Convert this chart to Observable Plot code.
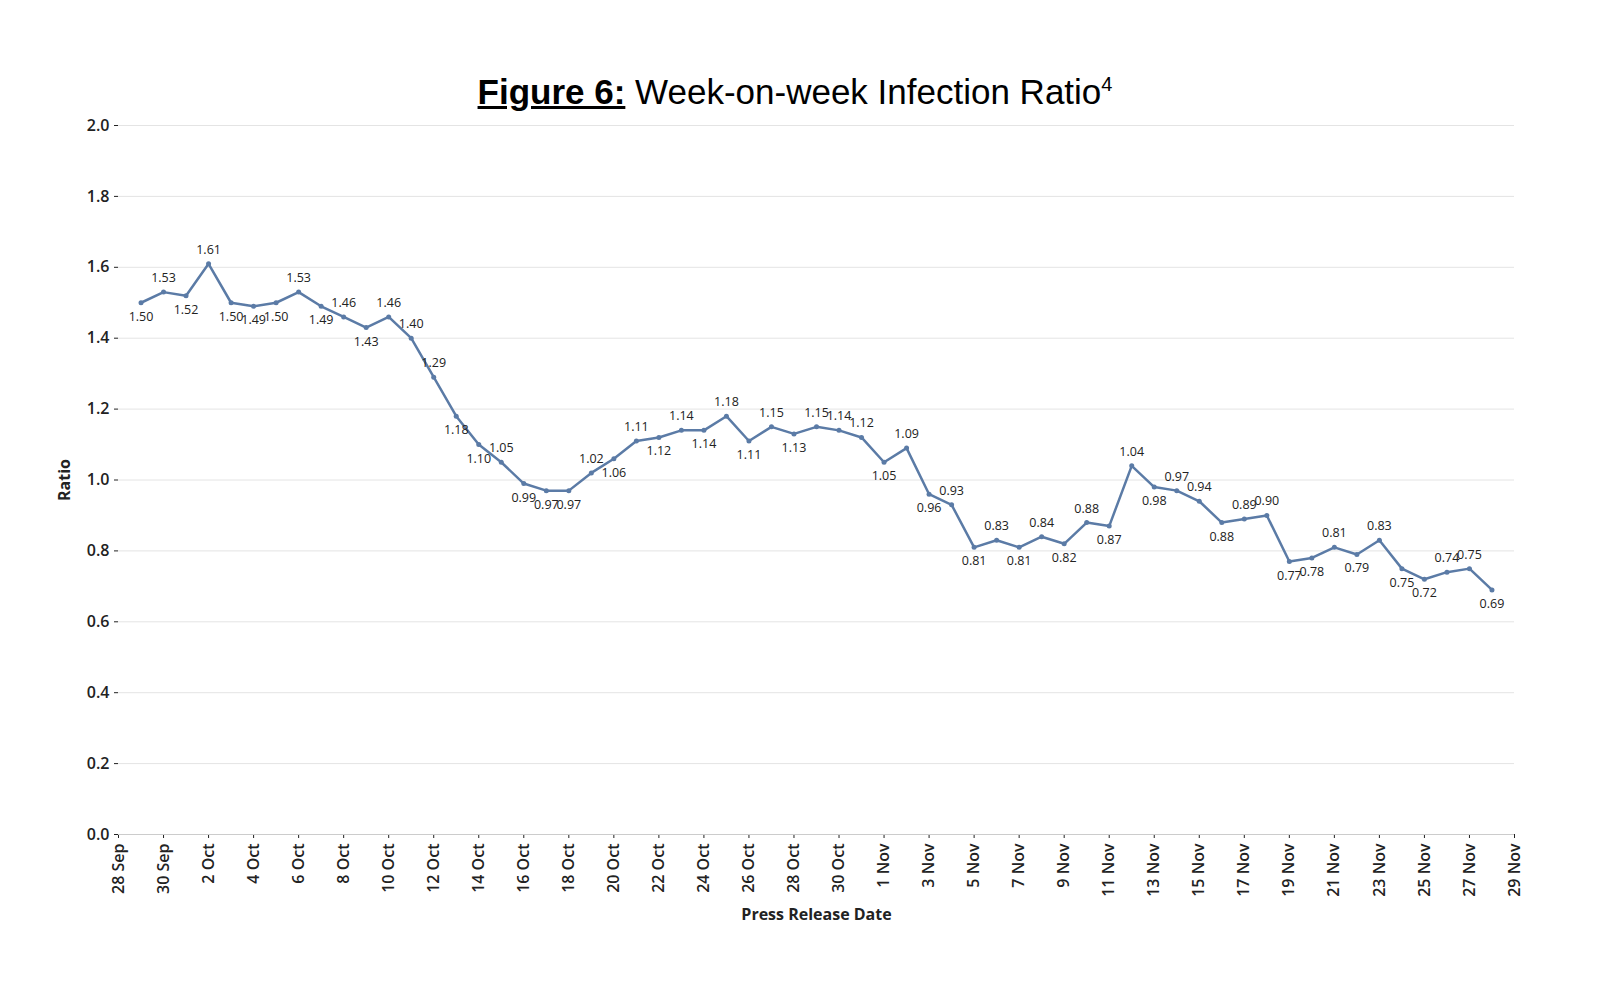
<!DOCTYPE html>
<html><head><meta charset="utf-8">
<script src="https://cdn.jsdelivr.net/npm/d3@7"></script>
<script src="https://cdn.jsdelivr.net/npm/@observablehq/plot@0.6"></script>
<style>
body{margin:0;background:#fff;font-family:"Open Sans",sans-serif}
#title{position:absolute;top:72px;left:0;width:1590px;text-align:center;font-family:"Liberation Sans",Arial,sans-serif;font-size:35px;color:#000}
#chart{position:absolute;top:110px;left:0}
</style></head><body>
<div id="title"><b><u>Figure 6:</u></b> Week-on-week Infection Ratio<sup style="font-size:20px">4</sup></div>
<div id="chart"></div>
<script>
const startDate = "2020-09-29";
const values = [1.50,1.53,1.52,1.61,1.50,1.49,1.50,1.53,1.49,1.46,1.43,1.46,1.40,1.29,1.18,1.10,1.05,0.99,0.97,0.97,1.02,1.06,1.11,1.12,1.14,1.14,1.18,1.11,1.15,1.13,1.15,1.14,1.12,1.05,1.09,0.96,0.93,0.81,0.83,0.81,0.84,0.82,0.88,0.87,1.04,0.98,0.97,0.94,0.88,0.89,0.90,0.77,0.78,0.81,0.79,0.83,0.75,0.72,0.74,0.75,0.69];
const yTicks = [0,0.2,0.4,0.6,0.8,1.0,1.2,1.4,1.6,1.8,2.0];
const months = ["Jan","Feb","Mar","Apr","May","Jun","Jul","Aug","Sep","Oct","Nov","Dec"];

const s0 = new Date(startDate+"T00:00:00Z");
const data = values.map((v,i)=>{
  const d = new Date(s0.getTime()+i*86400000);
  const prev = values[i-1] ?? v, next = values[i+1] ?? v;
  return {date:d, v, above: v >= (prev+next)/2};
});
const xTicks = [];
for (let d = new Date(Date.UTC(2020,8,28)); d <= new Date(Date.UTC(2020,10,29)); d = new Date(d.getTime()+2*86400000)) xTicks.push(d);
const fmt = d => d.getUTCDate()+" "+months[d.getUTCMonth()];

const plot = Plot.plot({
  width:1564, height:814,
  marginLeft:118, marginRight:50, marginTop:15, marginBottom:90,
  style:{fontFamily:"Open Sans, sans-serif", fontSize:"14px", color:"#222"},
  x:{type:"utc", domain:[new Date(Date.UTC(2020,8,28)), new Date(Date.UTC(2020,10,29))], ticks:xTicks, tickFormat:fmt, tickRotate:-90, label:"Press Release Date", labelArrow:"none", labelAnchor:"center", labelOffset:85, tickSize:4},
  y:{domain:[0,2.0], ticks:yTicks, tickFormat:d3.format(".1f"), label:"Ratio", labelArrow:"none", labelAnchor:"center", labelOffset:60, tickSize:4},
  marks:[
    Plot.gridY(yTicks,{stroke:"#e4e4e4", strokeOpacity:1}),
    Plot.ruleY([0],{stroke:"#ccc"}),
    Plot.line(data,{x:"date", y:"v", stroke:"#5b7ba6", strokeWidth:2.5}),
    Plot.dot(data,{x:"date", y:"v", fill:"#5b7ba6", r:2.5}),
    Plot.text(data.filter(d=>d.above),{x:"date", y:"v", text:d=>d.v.toFixed(2), dy:-14, fontSize:12.5, fill:"#222"}),
    Plot.text(data.filter(d=>!d.above),{x:"date", y:"v", text:d=>d.v.toFixed(2), dy:14, fontSize:12.5, fill:"#222"})
  ]
});
plot.querySelectorAll("g[aria-label='x-axis tick label'] text, g[aria-label='y-axis tick label'] text").forEach(t=>{t.style.fontSize="16px";t.style.fontWeight="600";});
plot.querySelectorAll("g[aria-label='x-axis label'] text, g[aria-label='y-axis label'] text").forEach(t=>{t.style.fontSize="16px";t.style.fontWeight="700";t.textContent=t.textContent.replace(/[\s]*[→↑]/g,"").replace(/^[↑→]\s*/,"");});
document.getElementById("chart").appendChild(plot);
</script></body></html>
